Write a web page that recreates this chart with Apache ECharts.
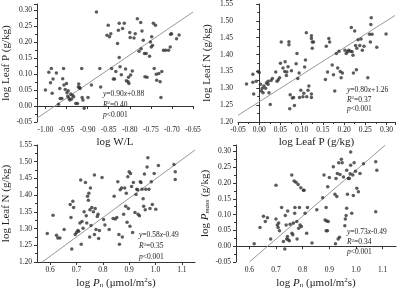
<!DOCTYPE html>
<html>
<head>
<meta charset="utf-8">
<script src="https://cdn.jsdelivr.net/npm/echarts@6/dist/echarts.min.js"></script>
<style>
  html, body { margin: 0; padding: 0; background: #fff; }
  #chart { width: 400px; height: 290px; }
</style>
</head>
<body>
<div id="chart"></div>
<script>
// panel A: log W/L vs log Leaf P
const ptsWL_P = [
  [-1.00,0.05],[-0.992,0.106],[-0.986,0.118],[-0.988,0.073],[-0.984,0.04],[-0.982,0.085],[-0.974,0.104],
  [-0.969,0.006],[-0.966,0.055],[-0.965,0.024],[-0.961,0.024],[-0.959,0.086],[-0.957,0.118],[-0.956,0.066],
  [-0.953,0.052],[-0.95,0.071],[-0.949,0.042],[-0.947,0.031],[-0.946,0.048],[-0.944,0.024],[-0.942,0.019],
  [-0.94,0.038],[-0.938,0.022],[-0.936,0.034],[-0.933,0.029],[-0.928,0.008],[-0.924,0.008],[-0.922,0.06],
  [-0.921,0.069],[-0.919,0.058],[-0.918,0.055],[-0.914,0.118],[-0.913,0.027],[-0.911,0.019],[-0.908,-0.007],
  [-0.899,0.027],[-0.891,0.066],[-0.879,0.295],[-0.871,0.118],[-0.869,0.06],
  [-0.851,0.253],[-0.854,0.222],[-0.848,0.217],[-0.845,0.227],[-0.843,0.118],[-0.839,0.085],[-0.836,0.085],
  [-0.833,0.108],[-0.829,0.196],[-0.827,0.238],[-0.825,0.26],[-0.825,0.152],[-0.823,0.123],[-0.82,0.098],
  [-0.817,0.243],[-0.813,0.26],[-0.81,0.116],[-0.808,0.079],[-0.804,0.076],[-0.803,0.09],[-0.802,0.071],
  [-0.8,0.231],[-0.799,0.215],[-0.798,0.097],[-0.794,0.11],[-0.79,0.213],[-0.787,0.227],[-0.782,0.274],
  [-0.778,0.172],[-0.774,0.262],[-0.773,0.18],[-0.771,0.235],[-0.768,0.206],[-0.765,0.165],[-0.764,0.092],
  [-0.761,0.165],[-0.759,0.09],[-0.753,0.156],[-0.751,0.201],[-0.749,0.185],[-0.748,0.217],[-0.746,0.19],
  [-0.744,0.26],[-0.742,0.118],[-0.739,0.253],[-0.737,0.1],[-0.736,0.081],[-0.731,0.102],[-0.728,0.076],
  [-0.726,0.027],[-0.724,0.108],[-0.72,0.175],[-0.715,0.175],[-0.708,0.175],[-0.704,0.185],[-0.703,0.225],
  [-0.701,0.227],[-0.689,0.211],[-0.683,0.223]
];
// panel B: log Leaf P vs log Leaf N
const ptsP_N = [
  [-0.03,1.313],[-0.015,1.342],[-0.015,1.318],[-0.013,1.283],[-0.007,1.321],[-0.003,1.35],[0.0,1.347],
  [0.003,1.312],[0.005,1.292],[0.007,1.30],[0.009,1.287],[0.011,1.307],[0.015,1.30],[0.017,1.316],
  [0.021,1.321],[0.021,1.312],[0.023,1.287],[0.026,1.252],[0.028,1.323],[0.031,1.329],[0.039,1.348],
  [0.042,1.321],[0.045,1.325],[0.048,1.331],[0.05,1.374],[0.052,1.437],[0.056,1.36],[0.06,1.35],
  [0.061,1.379],[0.064,1.338],[0.065,1.348],[0.068,1.364],[0.07,1.438],[0.07,1.429],[0.072,1.239],
  [0.073,1.281],[0.076,1.352],[0.078,1.271],[0.081,1.273],[0.083,1.249],[0.087,1.373],[0.089,1.403],
  [0.091,1.329],[0.094,1.345],[0.095,1.273],[0.098,1.294],[0.103,1.275],[0.105,1.285],[0.107,1.363],
  [0.109,1.384],[0.111,1.465],[0.112,1.275],[0.115,1.294],[0.117,1.307],[0.123,1.456],[0.123,1.448],
  [0.123,1.283],[0.123,1.273],[0.125,1.419],[0.125,1.437],[0.128,1.437],[0.156,1.326],[0.158,1.425],
  [0.161,1.348],[0.164,1.448],[0.166,1.437],[0.172,1.369],[0.175,1.34],[0.178,1.292],[0.182,1.403],
  [0.185,1.36],[0.188,1.41],[0.191,1.35],[0.193,1.331],[0.196,1.345],[0.202,1.413],[0.205,1.403],
  [0.208,1.408],[0.211,1.413],[0.215,1.41],[0.217,1.48],[0.219,1.408],[0.221,1.398],[0.222,1.345],
  [0.225,1.47],[0.227,1.427],[0.229,1.355],[0.23,1.419],[0.233,1.444],[0.237,1.427],[0.24,1.446],
  [0.243,1.413],[0.247,1.425],[0.256,1.331],[0.26,1.46],[0.262,1.437],[0.263,1.489],[0.264,1.509],
  [0.266,1.46],[0.277,1.422],[0.299,1.461]
];
// panel C: log Pn vs log Leaf N
const ptsPn_N = [
  [0.589,1.285],[0.611,1.34],[0.624,1.28],[0.629,1.272],[0.637,1.272],[0.653,1.297],[0.676,1.372],
  [0.679,1.333],[0.682,1.239],[0.686,1.382],[0.689,1.363],[0.695,1.282],[0.70,1.288],[0.705,1.294],
  [0.708,1.292],[0.713,1.317],[0.716,1.445],[0.718,1.253],[0.721,1.321],[0.725,1.301],[0.729,1.35],
  [0.734,1.438],[0.737,1.338],[0.739,1.317],[0.742,1.397],[0.745,1.385],[0.747,1.406],[0.75,1.275],
  [0.751,1.356],[0.753,1.421],[0.755,1.309],[0.758,1.363],[0.764,1.35],[0.768,1.46],[0.768,1.282],
  [0.771,1.36],[0.774,1.297],[0.779,1.336],[0.782,1.343],[0.784,1.27],[0.787,1.294],[0.797,1.453],
  [0.803,1.327],[0.808,1.311],[0.824,1.297],[0.839,1.33],[0.843,1.397],[0.847,1.329],[0.853,1.333],
  [0.857,1.44],[0.861,1.282],[0.863,1.253],[0.866,1.416],[0.871,1.421],[0.874,1.275],[0.879,1.343],
  [0.883,1.421],[0.887,1.367],[0.889,1.406],[0.892,1.319],[0.895,1.455],[0.897,1.36],[0.90,1.47],
  [0.903,1.307],[0.905,1.465],[0.909,1.426],[0.913,1.288],[0.916,1.438],[0.922,1.348],[0.926,1.402],
  [0.929,1.418],[0.932,1.416],[0.934,1.343],[0.939,1.338],[0.942,1.44],[0.945,1.438],[0.949,1.418],
  [0.953,1.389],[0.955,1.367],[0.958,1.463],[0.961,1.356],[0.963,1.418],[0.968,1.484],[0.971,1.512],
  [0.975,1.418],[0.979,1.36],[0.984,1.44],[0.988,1.372],[0.995,1.465],[1.001,1.358],[1.011,1.489],
  [1.07,1.492],[1.075,1.47],[1.075,1.447]
];
// panel D: log Pn vs log Pmass
const ptsPn_Pm = [
  [0.618,0.008],[0.64,0.059],[0.653,0.095],[0.66,0.078],[0.668,0.09],[0.68,0.023],[0.70,0.193],
  [0.70,0.086],[0.705,0.067],[0.708,0.059],[0.71,0.073],[0.713,0.049],[0.721,0.122],[0.728,0.015],
  [0.733,-0.009],[0.735,0.097],[0.738,0.067],[0.74,0.023],[0.743,0.031],[0.744,0.111],[0.746,0.02],
  [0.75,0.017],[0.753,0.069],[0.759,0.225],[0.76,0.041],[0.763,0.036],[0.765,0.073],[0.768,0.206],
  [0.77,0.104],[0.771,0.122],[0.775,0.202],[0.778,0.078],[0.779,0.023],[0.783,0.195],[0.785,0.057],
  [0.788,0.122],[0.79,0.067],[0.793,0.185],[0.795,0.062],[0.803,0.177],[0.805,0.177],[0.809,0.104],
  [0.815,0.041],[0.818,0.122],[0.835,0.01],[0.853,0.115],[0.875,0.153],[0.88,0.225],[0.884,0.083],
  [0.888,0.122],[0.888,0.049],[0.89,0.08],[0.893,0.049],[0.894,0.188],[0.896,0.078],[0.90,0.217],
  [0.915,0.251],[0.921,0.164],[0.923,0.008],[0.925,0.214],[0.928,0.157],[0.93,0.23],[0.933,0.023],
  [0.935,0.264],[0.938,0.028],[0.94,0.227],[0.945,0.275],[0.948,0.264],[0.953,0.219],[0.958,0.065],
  [0.96,0.086],[0.963,0.097],[0.965,0.12],[0.965,0.24],[0.968,0.164],[0.971,0.214],[0.975,0.214],
  [0.978,0.229],[0.98,0.298],[0.98,0.256],[0.984,0.104],[0.988,0.225],[0.99,0.16],[0.993,0.264],
  [0.998,0.237],[1.003,0.183],[1.009,0.172],[1.015,0.23],[1.028,0.261],[1.074,0.267],[1.078,0.24],
  [1.074,0.109]
];

// fitted lines, end points
const fitA = [[-1.02, -0.038], [-0.65, 0.295]];
const fitB = [[-0.05, 1.22], [0.32, 1.516]];
const fitC = [[0.57, 1.20], [1.15, 1.535]];
const fitD = [[0.6, -0.05], [1.11, 0.32]];

const ticksWL = [-1.00, -0.95, -0.90, -0.85, -0.80, -0.75, -0.70, -0.65];
const ticksPn = [0.6, 0.7, 0.8, 0.9, 1.0, 1.1];

const statsA = ['{i|y}=0.90{i|x}+0.88', '{i|R}{sup|2}=0.40', '{i|p}<0.001'];
const statsB = ['{i|y}=0.80{i|x}+1.26', '{i|R}{sup|2}=0.37', '{i|p}<0.001'];
const statsC = ['{i|y}=0.58{i|x}-0.49', '{i|R}{sup|2}=0.35', '{i|p}<0.001'];
const statsD = ['{i|y}=0.73{i|x}-0.49', '{i|R}{sup|2}=0.34', '{i|p}<0.001'];

const FONT = '"Liberation Serif", "DejaVu Serif", serif';
const TXT = '#222';

const rich = {
  i: { fontStyle: 'italic', fontFamily: FONT, fontSize: 11, color: TXT },
  sub: { fontStyle: 'italic', fontFamily: FONT, fontSize: 7, color: TXT, verticalAlign: 'bottom', padding: [5, 0, 0, 0] },
  sup: { fontFamily: FONT, fontSize: 7, color: TXT, padding: [0, 0, 5, 0] },
  n: { fontFamily: FONT, fontSize: 11, color: TXT }
};
const statRich = {
  i: { fontStyle: 'italic', fontFamily: FONT, fontSize: 7.5, color: TXT },
  sup: { fontFamily: FONT, fontSize: 5, color: TXT, padding: [0, 0, 4, 0] }
};

function xAx(idx, min, max, opts) {
  return Object.assign({
    gridIndex: idx, type: 'value', min: min, max: max,
    nameLocation: 'middle', nameGap: 15,
    nameTextStyle: { fontFamily: FONT, fontSize: 11, color: TXT, rich: rich },
    axisLine: { show: true, lineStyle: { color: '#333', width: 1 } },
    axisTick: { show: true, inside: false, length: 3, lineStyle: { color: '#333' } },
    minorTick: { show: true, splitNumber: 2, length: 2, lineStyle: { color: '#333' } },
    axisLabel: { fontFamily: FONT, fontSize: 7.5, color: TXT, margin: 4, formatter: v => v.toFixed(2) },
    splitLine: { show: false }
  }, opts || {});
}
function yAx(idx, min, max, opts) {
  return Object.assign({
    gridIndex: idx, type: 'value', min: min, max: max, interval: 0.05,
    nameLocation: 'middle', nameGap: 25,
    nameTextStyle: { fontFamily: FONT, fontSize: 11, color: TXT, rich: rich },
    axisLine: { show: true, lineStyle: { color: '#333', width: 1 } },
    axisTick: { show: true, inside: false, length: 3, lineStyle: { color: '#333' } },
    minorTick: { show: true, splitNumber: 2, length: 2, lineStyle: { color: '#333' } },
    axisLabel: { fontFamily: FONT, fontSize: 7.5, color: TXT, margin: 5, formatter: v => v.toFixed(2) },
    splitLine: { show: false }
  }, opts || {});
}

function scatter(i, data) {
  return { type: 'scatter', xAxisIndex: i, yAxisIndex: i, data: data, symbolSize: 3.5,
    itemStyle: { color: '#333' }, silent: true };
}
function fit(i, data) {
  return { type: 'line', xAxisIndex: i, yAxisIndex: i, data: data, showSymbol: false, silent: true,
    lineStyle: { color: '#999', width: 1 }, z: 1 };
}
function stats(lines, x, y, gap) {
  return lines.map((t, k) => ({
    type: 'text', left: x, top: y + k * gap,
    style: { text: t, fontFamily: FONT, fontSize: 7.5, fill: TXT, rich: statRich }
  }));
}

const chart = echarts.init(document.getElementById('chart'));
chart.setOption({
  backgroundColor: '#fff',
  animation: false,
  grid: [
    { left: 37, top: 4, width: 156, height: 118 },
    { left: 238, top: 1, width: 157, height: 121 },
    { left: 37, top: 145, width: 158, height: 117 },
    { left: 236, top: 145, width: 160, height: 117 }
  ],
  xAxis: [
    xAx(0, -1.02, -0.65, { name: 'log W/L',
      axisLabel: { fontFamily: FONT, fontSize: 7.5, color: TXT, margin: 4, formatter: v => v.toFixed(2), customValues: ticksWL },
      axisTick: { show: true, length: 3, lineStyle: { color: '#333' }, customValues: ticksWL },
      minorTick: { show: false } }),
    xAx(1, -0.05, 0.32, { name: 'log Leaf P (g/kg)', interval: 0.05 }),
    xAx(2, 0.55, 1.15, { name: 'log {i|P}{sub|n}{n| (μmol/m}{sup|2}{n|s)}',
      axisLabel: { fontFamily: FONT, fontSize: 7.5, color: TXT, margin: 4, formatter: v => v.toFixed(1), customValues: ticksPn },
      axisTick: { show: true, length: 3, lineStyle: { color: '#333' }, customValues: ticksPn },
      minorTick: { show: false } }),
    xAx(3, 0.55, 1.15, { name: 'log {i|P}{sub|n}{n| (μmol/m}{sup|2}{n|s)}',
      axisLabel: { fontFamily: FONT, fontSize: 7.5, color: TXT, margin: 4, formatter: v => v.toFixed(1), customValues: ticksPn },
      axisTick: { show: true, length: 3, lineStyle: { color: '#333' }, customValues: ticksPn },
      minorTick: { show: false } })
  ],
  yAxis: [
    yAx(0, -0.05, 0.32, { name: 'log Leaf P (g/kg)' }),
    yAx(1, 1.20, 1.55, { name: 'log Leaf N (g/kg)' }),
    yAx(2, 1.20, 1.55, { name: 'log Leaf N (g/kg)' }),
    yAx(3, -0.05, 0.32, { name: 'log {i|P}{sub|mass}{n| (g/kg)}' })
  ],
  series: [
    fit(0, fitA), scatter(0, ptsWL_P),
    fit(1, fitB), scatter(1, ptsP_N),
    fit(2, fitC), scatter(2, ptsPn_N),
    fit(3, fitD), scatter(3, ptsPn_Pm)
  ],
  graphic: [].concat(
    stats(statsA, 103, 90, 10.5),
    stats(statsB, 347, 86, 9.5),
    stats(statsC, 139, 231, 11),
    stats(statsD, 347, 228, 10)
  )
});
</script>
</body>
</html>
